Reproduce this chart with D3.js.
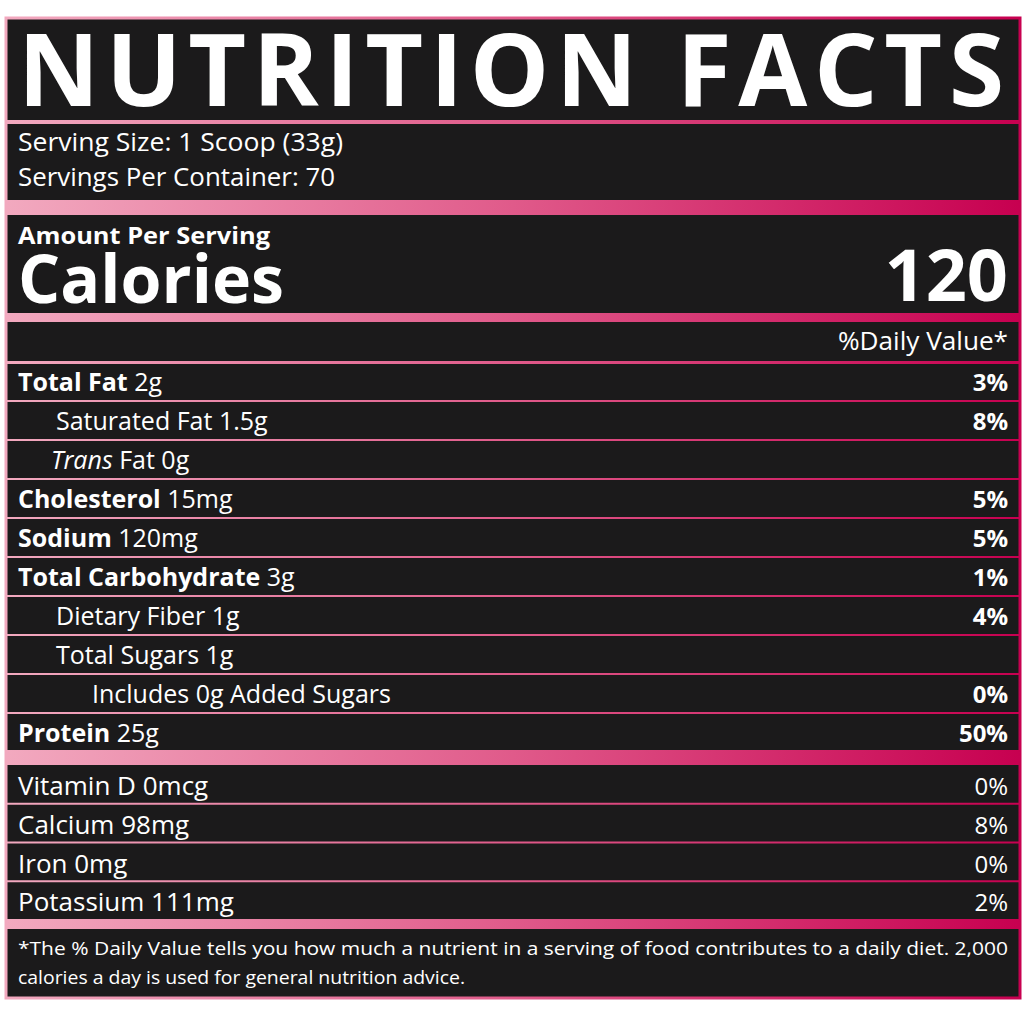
<!DOCTYPE html>
<html>
<head>
<meta charset="utf-8">
<script src="https://cdn.jsdelivr.net/npm/d3@7"></script>
<style>
  body { margin: 0; background: #fff; }
  svg { display: block; font-family: 'Open Sans', sans-serif; }
</style>
</head>
<body>
<svg id="label" width="1024" height="1024"></svg>
<script>
// label content
const title = 'NUTRITION FACTS';
const servingLines = ['Serving Size: 1 Scoop (33g)', 'Servings Per Container: 70'];
const calories = 120;
const nutrientNames = ['Total Fat', 'Saturated Fat', 'Trans', 'Cholesterol', 'Sodium', 'Total Carbohydrate', 'Dietary Fiber', 'Total Sugars', 'Includes 0g Added Sugars', 'Protein'];
const nutrientAmounts = ['2g', '1.5g', 'Fat 0g', '15mg', '120mg', '3g', '1g', '1g', '', '25g'];
const nutrientBold = [true, false, false, true, true, true, false, false, false, true];
const nutrientItalic = [false, false, true, false, false, false, false, false, false, false];
const nutrientIndent = [0, 1, 1, 0, 0, 0, 1, 1, 2, 0];
const nutrientDV = ['3%', '8%', '', '5%', '5%', '1%', '4%', '', '0%', '50%'];
const vitaminNames = ['Vitamin D 0mcg', 'Calcium 98mg', 'Iron 0mg', 'Potassium 111mg'];
const vitaminDV = ['0%', '8%', '0%', '2%'];
const footnote = ['*The % Daily Value tells you how much a nutrient in a serving of food contributes to a daily diet. 2,000',
  'calories a day is used for general nutrition advice.'];

const svg = d3.select('#label');
const L = 18, R = 1008;

const defs = svg.append('defs');
const grad = defs.append('linearGradient').attr('id', 'pink').attr('x1', 0).attr('x2', 1);
grad.append('stop').attr('offset', 0).attr('stop-color', '#f2a9bf');
grad.append('stop').attr('offset', 0.5).attr('stop-color', '#e05a8a');
grad.append('stop').attr('offset', 1).attr('stop-color', '#c70050');

// panel
svg.append('rect').attr('x', 6).attr('y', 18).attr('width', 1014).attr('height', 980)
  .attr('fill', '#1b1a1b').attr('stroke', 'url(#pink)').attr('stroke-width', 3);

const band = (y, h) => svg.append('rect').attr('x', 7).attr('y', y).attr('width', 1012).attr('height', h).attr('fill', 'url(#pink)');

// title
svg.append('text').attr('x', L).attr('y', 106).attr('fill', '#fff')
  .attr('font-size', 100).attr('font-weight', 700)
  .attr('textLength', R - L - 4).attr('lengthAdjust', 'spacing').text(title);
band(120, 4);

// serving info
svg.selectAll('text.serv').data(servingLines).join('text').attr('class', 'serv')
  .attr('x', L).attr('y', (d, i) => 151 + i * 35).attr('fill', '#fff').attr('font-size', 25)
  .attr('textLength', (d, i) => i ? 317 : 325).attr('lengthAdjust', 'spacingAndGlyphs')
  .text(d => d);
band(200, 15);

svg.append('text').attr('x', L).attr('y', 244).attr('fill', '#fff').attr('font-size', 24)
  .attr('font-weight', 700).attr('textLength', 252).attr('lengthAdjust', 'spacingAndGlyphs')
  .text('Amount Per Serving');
svg.append('text').attr('x', L).attr('y', 303).attr('fill', '#fff').attr('font-size', 66)
  .attr('font-weight', 700).attr('textLength', 266).attr('lengthAdjust', 'spacingAndGlyphs')
  .text('Calories');
svg.append('text').attr('x', R).attr('y', 301).attr('text-anchor', 'end').attr('fill', '#fff')
  .attr('font-size', 72).attr('font-weight', 700).text(calories);
band(313, 9);

svg.append('text').attr('x', R).attr('y', 350).attr('text-anchor', 'end').attr('fill', '#fff')
  .attr('font-size', 25).attr('textLength', 170).attr('lengthAdjust', 'spacingAndGlyphs')
  .text('%Daily Value*');
band(361, 3);

// nutrient rows
const y = d3.scaleBand().domain(d3.range(nutrientNames.length)).range([362, 752]);
const indentX = [L, 56, 92];
nutrientNames.forEach((name, i) => {
  const yb = y(i) + 29;
  const t = svg.append('text').attr('x', i === 2 ? 51 : indentX[nutrientIndent[i]]).attr('y', yb)
    .attr('fill', '#fff').attr('font-size', 25);
  t.append('tspan').attr('font-weight', nutrientBold[i] ? 700 : 400)
    .attr('font-style', nutrientItalic[i] ? 'italic' : 'normal').text(name);
  if (nutrientAmounts[i]) t.append('tspan').text(' ' + nutrientAmounts[i]);
  if (nutrientDV[i]) svg.append('text').attr('x', R).attr('y', yb).attr('text-anchor', 'end')
    .attr('fill', '#fff').attr('font-size', 24).attr('font-weight', 700).text(nutrientDV[i]);
  if (i < nutrientNames.length - 1) band(y(i) + y.bandwidth() - 1, 2);
});
band(750, 15);

// vitamins
const yv = d3.scaleBand().domain(d3.range(vitaminNames.length)).range([765, 920]);
vitaminNames.forEach((name, i) => {
  const yb = yv(i) + 30;
  svg.append('text').attr('x', L).attr('y', yb).attr('fill', '#fff').attr('font-size', 26).text(name);
  svg.append('text').attr('x', R).attr('y', yb).attr('text-anchor', 'end').attr('fill', '#fff')
    .attr('font-size', 24).text(vitaminDV[i]);
  if (i < vitaminNames.length - 1) band(yv(i) + yv.bandwidth() - 1, 2);
});
band(919, 10);

// footnote
footnote.forEach((line, i) => {
  svg.append('text').attr('x', L).attr('y', 955 + i * 29).attr('fill', '#fff')
    .attr('font-size', 19).attr('textLength', i ? 447 : R - L).attr('lengthAdjust', 'spacingAndGlyphs')
    .text(line);
});
</script>
</body>
</html>
